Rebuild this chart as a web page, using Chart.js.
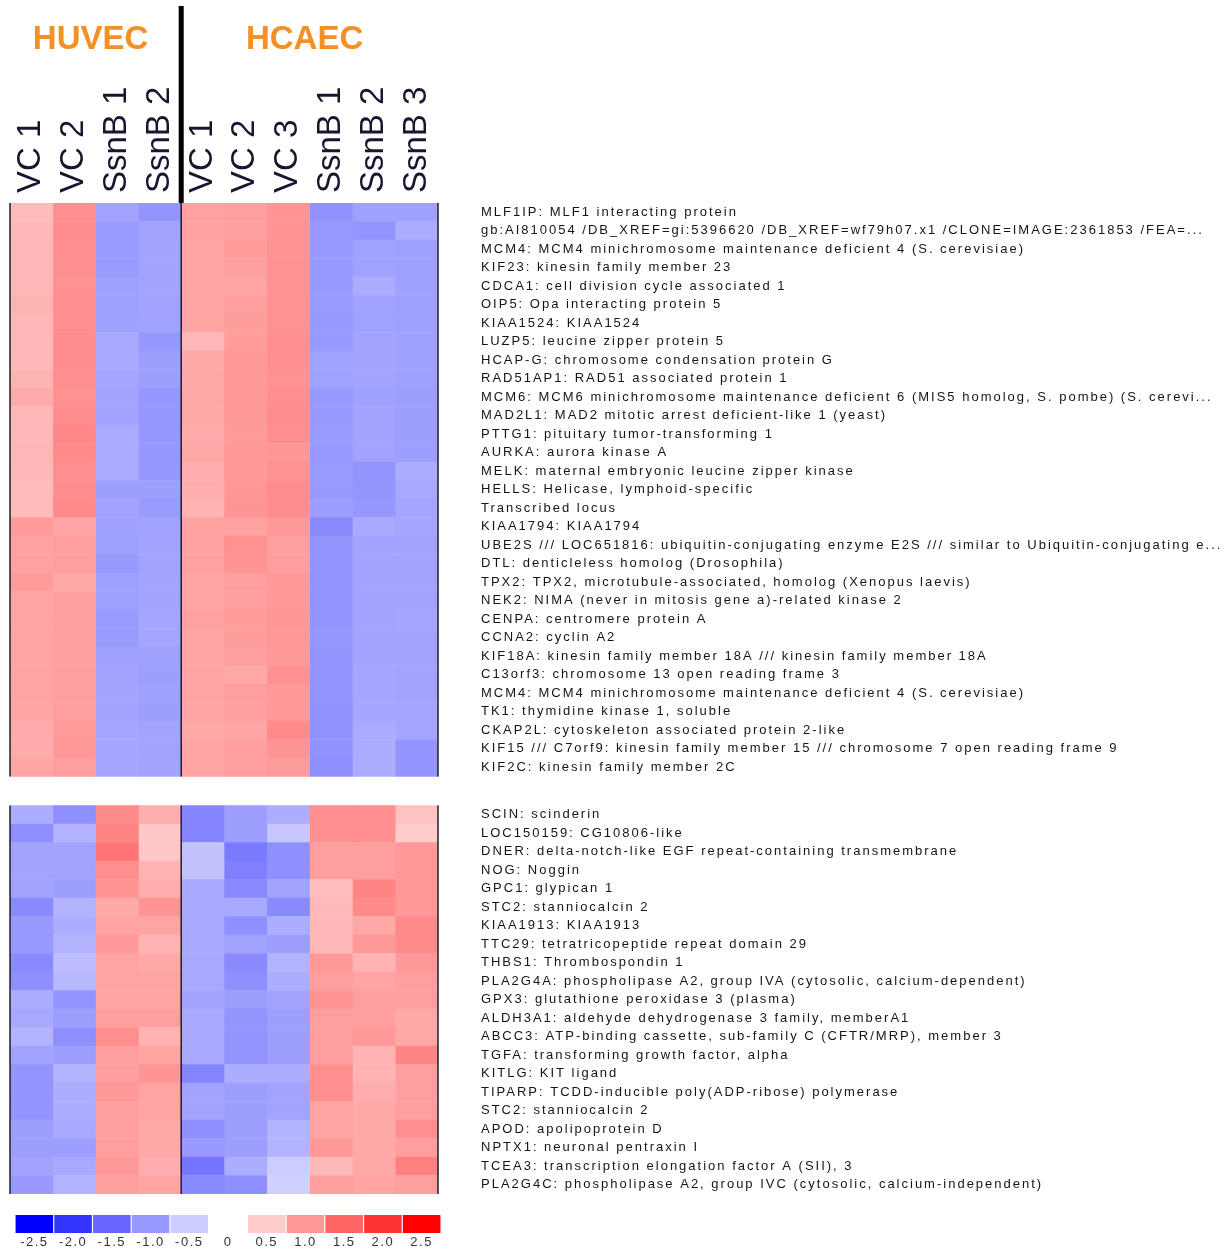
<!DOCTYPE html>
<html><head><meta charset="utf-8">
<script src="https://cdn.jsdelivr.net/npm/chart.js@4.4.1/dist/chart.umd.min.js"></script>
<style>
html,body{margin:0;padding:0;background:#fff;}
#main{position:absolute;left:0;top:0;width:1229px;height:1200px;}
#leg{position:absolute;left:0;top:1205px;width:470px;height:46px;}
</style></head><body>
<div id="main"><canvas id="c1"></canvas></div>
<div id="leg"><canvas id="c2"></canvas></div>
<script>
const sampleLabels = ['VC 1','VC 2','SsnB 1','SsnB 2','VC 1','VC 2','VC 3','SsnB 1','SsnB 2','SsnB 3'];
const groupLabels = ['HUVEC','HCAEC'];
const groupSpans = [[0,4],[4,10]];

const topGenes = [
 'MLF1IP: MLF1 interacting protein',
 'gb:AI810054 /DB_XREF=gi:5396620 /DB_XREF=wf79h07.x1 /CLONE=IMAGE:2361853 /FEA=...',
 'MCM4: MCM4 minichromosome maintenance deficient 4 (S. cerevisiae)',
 'KIF23: kinesin family member 23',
 'CDCA1: cell division cycle associated 1',
 'OIP5: Opa interacting protein 5',
 'KIAA1524: KIAA1524',
 'LUZP5: leucine zipper protein 5',
 'HCAP-G: chromosome condensation protein G',
 'RAD51AP1: RAD51 associated protein 1',
 'MCM6: MCM6 minichromosome maintenance deficient 6 (MIS5 homolog, S. pombe) (S. cerevi...',
 'MAD2L1: MAD2 mitotic arrest deficient-like 1 (yeast)',
 'PTTG1: pituitary tumor-transforming 1',
 'AURKA: aurora kinase A',
 'MELK: maternal embryonic leucine zipper kinase',
 'HELLS: Helicase, lymphoid-specific',
 'Transcribed locus',
 'KIAA1794: KIAA1794',
 'UBE2S /// LOC651816: ubiquitin-conjugating enzyme E2S /// similar to Ubiquitin-conjugating e...',
 'DTL: denticleless homolog (Drosophila)',
 'TPX2: TPX2, microtubule-associated, homolog (Xenopus laevis)',
 'NEK2: NIMA (never in mitosis gene a)-related kinase 2',
 'CENPA: centromere protein A',
 'CCNA2: cyclin A2',
 'KIF18A: kinesin family member 18A /// kinesin family member 18A',
 'C13orf3: chromosome 13 open reading frame 3',
 'MCM4: MCM4 minichromosome maintenance deficient 4 (S. cerevisiae)',
 'TK1: thymidine kinase 1, soluble',
 'CKAP2L: cytoskeleton associated protein 2-like',
 'KIF15 /// C7orf9: kinesin family member 15 /// chromosome 7 open reading frame 9',
 'KIF2C: kinesin family member 2C'
];
const bottomGenes = [
 'SCIN: scinderin',
 'LOC150159: CG10806-like',
 'DNER: delta-notch-like EGF repeat-containing transmembrane',
 'NOG: Noggin',
 'GPC1: glypican 1',
 'STC2: stanniocalcin 2',
 'KIAA1913: KIAA1913',
 'TTC29: tetratricopeptide repeat domain 29',
 'THBS1: Thrombospondin 1',
 'PLA2G4A: phospholipase A2, group IVA (cytosolic, calcium-dependent)',
 'GPX3: glutathione peroxidase 3 (plasma)',
 'ALDH3A1: aldehyde dehydrogenase 3 family, memberA1',
 'ABCC3: ATP-binding cassette, sub-family C (CFTR/MRP), member 3',
 'TGFA: transforming growth factor, alpha',
 'KITLG: KIT ligand',
 'TIPARP: TCDD-inducible poly(ADP-ribose) polymerase',
 'STC2: stanniocalcin 2',
 'APOD: apolipoprotein D',
 'NPTX1: neuronal pentraxin I',
 'TCEA3: transcription elongation factor A (SII), 3',
 'PLA2G4C: phospholipase A2, group IVC (cytosolic, calcium-independent)'
];

// top block (down-regulated genes), one array per sample column
const topHuvecVC1   = [0.68,0.70,0.72,0.72,0.72,0.74,0.72,0.72,0.70,0.74,0.82,0.72,0.70,0.72,0.70,0.68,0.68,0.98,0.92,0.92,0.98,0.90,0.90,0.90,0.90,0.90,0.90,0.88,0.82,0.82,0.88];
const topHuvecVC2   = [1.10,1.12,1.10,1.10,1.08,1.10,1.10,1.12,1.12,1.10,1.08,1.12,1.18,1.15,1.10,1.12,1.15,0.88,0.95,0.95,0.85,0.93,0.95,0.95,0.95,0.95,0.95,0.95,0.98,1.00,0.95];
const topHuvecSsnB1 = [-0.90,-0.98,-0.98,-0.98,-0.93,-0.93,-0.93,-0.85,-0.85,-0.88,-0.90,-0.90,-0.82,-0.82,-0.82,-0.95,-0.90,-0.93,-0.93,-1.00,-0.93,-0.93,-0.98,-0.98,-0.93,-0.90,-0.90,-0.90,-0.88,-0.88,-0.88];
const topHuvecSsnB2 = [-1.05,-0.90,-0.90,-0.90,-0.90,-0.90,-0.92,-1.02,-0.95,-0.95,-1.02,-1.02,-1.02,-1.02,-1.02,-0.95,-0.98,-0.92,-0.90,-0.90,-0.90,-0.90,-0.88,-0.88,-0.93,-0.95,-0.93,-0.95,-0.90,-0.90,-0.90];
const topHcaecVC1   = [0.92,0.92,0.90,0.90,0.90,0.88,0.90,0.72,0.85,0.85,0.85,0.85,0.82,0.85,0.80,0.78,0.75,0.92,0.92,0.92,0.90,0.90,0.92,0.90,0.90,0.90,0.90,0.90,0.85,0.88,0.90];
const topHcaecVC2   = [0.95,0.95,0.97,0.95,0.88,0.95,0.97,0.97,1.00,1.00,1.00,1.00,0.98,1.00,1.00,1.02,1.05,0.92,1.08,1.05,0.95,0.95,0.97,0.97,0.95,0.85,0.95,0.95,0.88,0.95,0.95];
const topHcaecVC3   = [1.05,1.05,1.05,1.08,1.08,1.08,1.08,1.10,1.10,1.08,1.10,1.12,1.10,1.02,1.08,1.12,1.12,1.00,0.95,0.95,1.00,1.00,1.02,1.00,1.00,1.08,1.00,1.00,1.15,1.05,0.97];
const topHcaecSsnB1 = [-1.08,-1.00,-1.00,-1.00,-1.00,-0.98,-1.00,-1.00,-0.92,-0.92,-1.00,-1.00,-0.98,-1.00,-0.98,-1.00,-0.95,-1.15,-1.05,-1.05,-1.05,-1.05,-1.05,-1.02,-1.05,-1.05,-1.05,-1.08,-1.08,-1.08,-1.10];
const topHcaecSsnB2 = [-0.93,-1.05,-0.92,-0.92,-0.82,-0.92,-0.92,-0.90,-0.90,-0.90,-0.93,-0.90,-0.90,-0.90,-1.05,-1.05,-1.02,-0.85,-0.90,-0.90,-0.90,-0.90,-0.90,-0.90,-0.90,-0.88,-0.88,-0.88,-0.82,-0.80,-0.80];
const topHcaecSsnB3 = [-0.93,-0.80,-0.93,-0.93,-0.93,-0.93,-0.93,-0.93,-0.93,-0.93,-0.95,-0.95,-0.95,-0.95,-0.80,-0.85,-0.88,-0.88,-0.90,-0.90,-0.90,-0.90,-0.88,-0.90,-0.90,-0.90,-0.90,-0.88,-0.88,-1.05,-1.05];

// bottom block (up-regulated genes)
const botHuvecVC1   = [-0.80,-1.10,-0.90,-0.90,-0.90,-1.15,-1.00,-1.00,-1.15,-1.10,-0.80,-0.85,-0.75,-0.90,-1.05,-1.05,-1.05,-0.95,-0.95,-0.90,-1.00];
const botHuvecVC2   = [-1.10,-0.75,-0.90,-0.90,-0.95,-0.75,-0.80,-0.75,-0.65,-0.70,-1.05,-0.95,-1.10,-0.95,-0.75,-0.80,-0.80,-0.85,-0.95,-0.85,-0.75];
const botHuvecSsnB1 = [1.15,1.20,1.35,1.10,1.05,0.85,0.90,1.00,0.90,0.90,0.90,0.95,1.10,0.95,0.95,1.00,0.95,0.95,0.95,1.00,0.95];
const botHuvecSsnB2 = [0.80,0.55,0.55,0.75,0.80,1.05,0.90,0.75,0.85,0.90,0.90,0.95,0.75,0.90,1.05,0.90,0.90,0.85,0.85,0.80,0.90];
const botHcaecVC1   = [-1.20,-1.20,-0.60,-0.60,-0.85,-0.85,-0.85,-0.85,-0.85,-0.85,-0.90,-0.85,-0.85,-0.85,-1.20,-0.90,-0.90,-1.10,-1.00,-1.35,-1.15];
const botHcaecVC2   = [-0.95,-0.95,-1.30,-1.25,-1.15,-0.85,-1.10,-0.90,-1.15,-1.10,-0.95,-1.05,-1.05,-1.05,-0.80,-0.95,-0.95,-0.95,-0.95,-0.80,-1.10];
const botHcaecVC3   = [-0.80,-0.55,-1.10,-1.10,-0.90,-1.15,-0.80,-0.95,-0.75,-0.80,-0.90,-0.95,-0.95,-0.95,-0.80,-0.90,-0.90,-0.75,-0.75,-0.50,-0.45];
const botHcaecSsnB1 = [1.10,1.10,0.95,0.95,0.65,0.70,0.70,0.70,1.00,0.95,1.05,0.95,0.95,0.95,1.10,1.10,0.90,0.90,1.00,0.70,0.95];
const botHcaecSsnB2 = [1.10,1.10,0.95,0.95,1.20,1.15,0.85,1.00,0.75,0.90,0.95,0.95,1.00,0.75,0.75,0.80,0.85,0.85,0.85,0.85,0.90];
const botHcaecSsnB3 = [0.60,0.50,1.00,1.00,1.00,1.00,1.15,1.15,1.00,0.95,0.95,0.85,0.85,1.20,0.95,0.95,0.95,1.10,0.95,1.25,0.95];

const legendTicks  = ['-2.5','-2.0','-1.5','-1.0','-0.5','0','0.5','1.0','1.5','2.0','2.5'];
const legendValues = [-2.5,-2.0,-1.5,-1.0,-0.5,0,0.5,1.0,1.5,2.0,2.5];

const topColumns = [topHuvecVC1,topHuvecVC2,topHuvecSsnB1,topHuvecSsnB2,topHcaecVC1,topHcaecVC2,topHcaecVC3,topHcaecSsnB1,topHcaecSsnB2,topHcaecSsnB3];
const botColumns = [botHuvecVC1,botHuvecVC2,botHuvecSsnB1,botHuvecSsnB2,botHcaecVC1,botHcaecVC2,botHcaecVC3,botHcaecSsnB1,botHcaecSsnB2,botHcaecSsnB3];

const GAP = 1.57; // blank space between the two gene blocks, in rows
const FONT = '"Liberation Sans", Arial, sans-serif';
const SAMPLE_FONT_SIZE = 33;

function heatColor(v) {
  const t = Math.min(Math.abs(v) / 2.5, 1);
  const c = Math.round(255 * (1 - t));
  return v >= 0 ? `rgb(255,${c},${c})` : `rgb(${c},${c},255)`;
}

const nTop = topGenes.length, nBot = bottomGenes.length;
const rowY = topGenes.map((_, i) => i + 0.5).concat(bottomGenes.map((_, j) => nTop + GAP + j + 0.5));
const rowLabels = topGenes.concat(bottomGenes);

const datasets = sampleLabels.map((name, c) => {
  const vals = topColumns[c].concat(botColumns[c]);
  return {
    label: name,
    data: rowY.map(y => ({x: [c, c + 1], y})),
    backgroundColor: vals.map(heatColor),
    borderWidth: 0,
    grouped: false,
    barPercentage: 1,
    categoryPercentage: 1
  };
});

const decor = {
  id: 'decor',
  beforeDraw(chart) { chart.ctx.letterSpacing = '2px'; },
  afterDatasetsDraw(chart) { chart.ctx.letterSpacing = '0px'; },
  afterDraw(chart) {
    const {ctx, scales: {x, y}} = chart;
    ctx.save();
    ctx.letterSpacing = '0px';
    const xs = x.getPixelForValue(groupSpans[1][0]);
    ctx.fillStyle = '#000';
    ctx.fillRect(xs - 2.5, 6, 5, y.getPixelForValue(0) - 6);
    const blocks = [[0, nTop], [nTop + GAP, nTop + GAP + nBot]];
    ctx.strokeStyle = '#1e1e28';
    ctx.lineWidth = 1.5;
    blocks.forEach(([a, b]) => {
      const ya = y.getPixelForValue(a), yb = y.getPixelForValue(b);
      [0, groupSpans[1][0], sampleLabels.length].forEach(v => {
        const px = x.getPixelForValue(v);
        ctx.beginPath(); ctx.moveTo(px, ya); ctx.lineTo(px, yb); ctx.stroke();
      });
    });
    ctx.font = 'bold 33px ' + FONT;
    ctx.fillStyle = '#F39026';
    ctx.textAlign = 'center';
    ctx.textBaseline = 'middle';
    groupLabels.forEach((g, i) => {
      const [a, b] = groupSpans[i];
      ctx.fillText(g, x.getPixelForValue((a + b) / 2) - 5, 40);
    });
    ctx.restore();
  }
};

new Chart(document.getElementById('c1'), {
  type: 'bar',
  data: {datasets},
  options: {
    indexAxis: 'y',
    animation: false,
    responsive: true,
    maintainAspectRatio: false,
    devicePixelRatio: 1,
    events: [],
    layout: {padding: {left: 10, right: 0, top: 0, bottom: 6}},
    plugins: {legend: {display: false}, tooltip: {enabled: false}, title: {display: false}},
    scales: {
      x: {
        type: 'linear', position: 'top', min: 0, max: sampleLabels.length, offset: false,
        grid: {display: false, drawTicks: false}, border: {display: false},
        afterBuildTicks: axis => { axis.ticks = sampleLabels.map((_, i) => ({value: i + 0.5})); },
        afterFit: axis => { axis.height = 203; axis.paddingLeft = 0; axis.paddingRight = 0; },
        ticks: {
          z: 1, autoSkip: false, maxRotation: 90, minRotation: 90, padding: 10,
          labelOffset: SAMPLE_FONT_SIZE * 1.2,
          color: '#161630', font: {size: SAMPLE_FONT_SIZE, family: FONT},
          callback: (v, i) => sampleLabels[i]
        }
      },
      y: {
        type: 'linear', position: 'right', reverse: true, offset: false,
        min: 0, max: nTop + GAP + nBot,
        grid: {display: false, drawTicks: false}, border: {display: false},
        afterBuildTicks: axis => { axis.ticks = rowY.map(v => ({value: v})); },
        afterFit: axis => { axis.width = 791; axis.paddingTop = 0; axis.paddingBottom = 0; },
        ticks: {
          z: 0, autoSkip: false, padding: 43, color: '#151515',
          font: {size: 13, family: FONT},
          callback: (v, i) => rowLabels[i]
        }
      }
    }
  },
  plugins: [decor]
});

new Chart(document.getElementById('c2'), {
  type: 'bar',
  data: {
    labels: legendTicks,
    datasets: [{
      data: legendValues.map(() => [0, 1]),
      backgroundColor: legendValues.map(v => v === 0 ? 'rgba(0,0,0,0)' : heatColor(v)),
      borderWidth: 0, barPercentage: 0.97, categoryPercentage: 1
    }]
  },
  options: {
    animation: false, responsive: true, maintainAspectRatio: false, devicePixelRatio: 1, events: [],
    layout: {padding: {left: 15, right: 29, top: 10, bottom: 0}},
    plugins: {legend: {display: false}, tooltip: {enabled: false}},
    scales: {
      x: {
        grid: {display: false, drawTicks: false}, border: {display: false},
        afterFit: axis => { axis.height = 18; axis.paddingLeft = 0; axis.paddingRight = 0; },
        ticks: {autoSkip: false, maxRotation: 0, padding: 2, color: '#333', font: {size: 13, family: FONT}}
      },
      y: {display: false, min: 0, max: 1}
    }
  },
  plugins: [{id: 'ls', beforeDraw(ch) { ch.ctx.letterSpacing = '1.5px'; }}]
});
</script>
</body></html>
